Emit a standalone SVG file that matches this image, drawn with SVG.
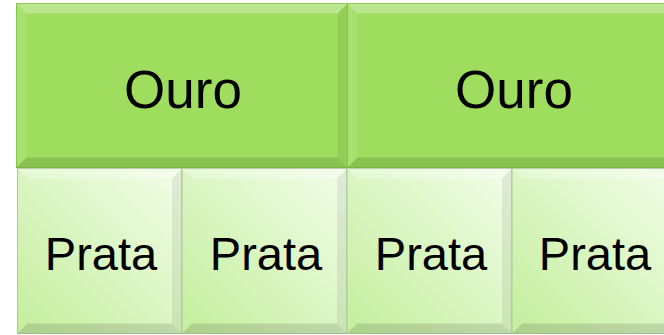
<svg xmlns="http://www.w3.org/2000/svg" width="664" height="335" viewBox="0 0 664 335">
<defs>
<linearGradient id="lg" x1="0" y1="1" x2="1" y2="0">
<stop offset="0" stop-color="#c4ee9c"/>
<stop offset="1" stop-color="#f2fde9"/>
</linearGradient>
<style>
.gold{fill:#9edd5d;stroke:#7fbf45;stroke-width:1}
.silver{fill:url(#lg);stroke:#a9c99a;stroke-width:1}
.bt{fill:#ffffff;fill-opacity:0.3}
.bl{fill:#ffffff;fill-opacity:0.12}
.br{fill:#000000;fill-opacity:0.07}
.bb{fill:#000000;fill-opacity:0.12}
.t{font-family:"Liberation Sans",Arial,sans-serif;fill:#000;text-anchor:middle}
.o{font-size:53px}
.p{font-size:47px}
</style>
</defs>
<rect width="664" height="335" fill="#ffffff"/>
<g id="ouro1">
<rect class="gold" x="16.5" y="3.5" width="331" height="164"/>
<polygon class="bt" points="16.5,3.5 347.5,3.5 337.5,13.5 26.5,13.5"/>
<polygon class="bl" points="16.5,3.5 26.5,13.5 26.5,157.5 16.5,167.5"/>
<polygon class="br" points="347.5,3.5 347.5,167.5 337.5,157.5 337.5,13.5"/>
<polygon class="bb" points="16.5,167.5 26.5,157.5 337.5,157.5 347.5,167.5"/>
<text class="t o" x="183" y="108">Ouro</text>
</g>
<g id="ouro2">
<rect class="gold" x="347.5" y="3.5" width="331" height="164"/>
<polygon class="bt" points="347.5,3.5 678.5,3.5 668.5,13.5 357.5,13.5"/>
<polygon class="bl" points="347.5,3.5 357.5,13.5 357.5,157.5 347.5,167.5"/>
<polygon class="bb" points="347.5,167.5 357.5,157.5 668.5,157.5 678.5,167.5"/>
<text class="t o" x="514" y="108">Ouro</text>
</g>
<g id="prata1">
<rect class="silver" x="17.5" y="168.5" width="164.5" height="165"/>
<polygon class="bt" points="17.5,168.5 182,168.5 172,178.5 27.5,178.5"/>
<polygon class="br" points="182,168.5 182,333.5 172,323.5 172,178.5"/>
<polygon class="bb" points="17.5,333.5 27.5,323.5 172,323.5 182,333.5"/>
<text class="t p" x="101" y="270">Prata</text>
</g>
<g id="prata2">
<rect class="silver" x="182" y="168.5" width="165" height="165"/>
<polygon class="bt" points="182,168.5 347,168.5 337,178.5 192,178.5"/>
<polygon class="br" points="347,168.5 347,333.5 337,323.5 337,178.5"/>
<polygon class="bb" points="182,333.5 192,323.5 337,323.5 347,333.5"/>
<text class="t p" x="266" y="270">Prata</text>
</g>
<g id="prata3">
<rect class="silver" x="347" y="168.5" width="165" height="165"/>
<polygon class="bt" points="347,168.5 512,168.5 502,178.5 357,178.5"/>
<polygon class="br" points="512,168.5 512,333.5 502,323.5 502,178.5"/>
<polygon class="bb" points="347,333.5 357,323.5 502,323.5 512,333.5"/>
<text class="t p" x="431" y="270">Prata</text>
</g>
<g id="prata4">
<rect class="silver" x="512" y="168.5" width="165" height="165"/>
<polygon class="bt" points="512,168.5 677,168.5 667,178.5 522,178.5"/>
<polygon class="bb" points="512,333.5 522,323.5 667,323.5 677,333.5"/>
<text class="t p" x="595" y="270">Prata</text>
</g>
<g id="connectors"/>
</svg>
